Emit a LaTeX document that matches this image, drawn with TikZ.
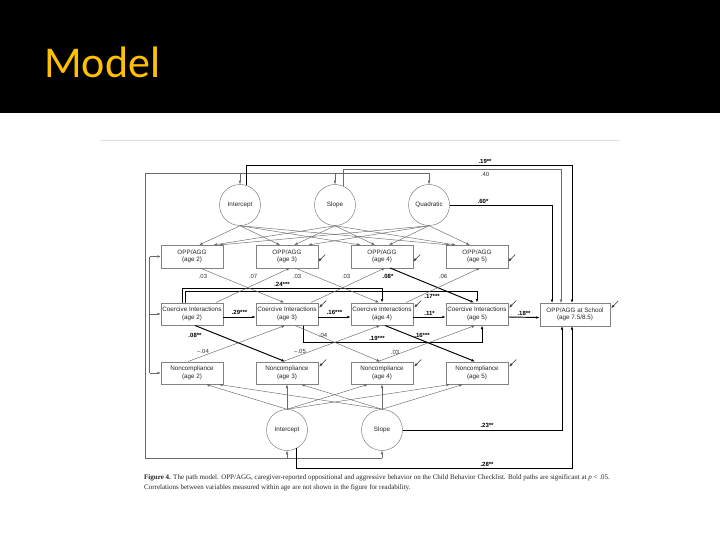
\documentclass[tikz,border=0pt]{standalone}
\usepackage{fontspec}
\setmainfont{Liberation Sans}
\newfontfamily\titlefont{Carlito}
\newfontfamily\capfont{Liberation Serif}
\usepackage{xcolor}
\usetikzlibrary{arrows.meta}
\definecolor{titolo}{RGB}{255,192,0}
\definecolor{linea}{RGB}{105,105,105}
\definecolor{bordo}{RGB}{130,130,130}
\newcommand{\boxfont}{\fontsize{6.3}{7.5}\selectfont}
\newcommand{\coeffont}{\fontsize{6}{7}\selectfont}

\begin{document}
\begin{tikzpicture}[>={Latex[length=3.5pt,width=2.6pt]}, x=1pt, y=-1pt,
  box/.style={draw=bordo, line width=0.5pt, minimum width=62pt, minimum height=22.5pt,
    inner sep=0.5pt, align=center, font=\boxfont, text=black!85},
  fac/.style={circle, draw=bordo, line width=0.5pt, minimum size=41pt, inner sep=0pt,
    font=\boxfont, text=black!85},
  gpath/.style={draw=linea, line width=0.45pt},
  bpath/.style={draw=black, line width=0.95pt},
  coef/.style={font=\coeffont, text=black!80, inner sep=0.5pt},
  bcoef/.style={font=\coeffont\bfseries, inner sep=0.5pt},
  res/.style={<-, draw=black!80, line width=0.45pt}]

  % Sfondo e titolo
  \useasboundingbox (0,0) rectangle (720,540);
  \fill[white] (0,0) rectangle (720,540);
  \fill[black] (0,0) rectangle (720,113);
  \node[anchor=base west, inner sep=0pt, text=titolo,
    font=\titlefont\fontsize{44}{50}\selectfont] (tit) at (44,78) {Model};
  \draw[gray!25, line width=0.6pt] (100,140) -- (620,140);

  % Fattori latenti
  \node[fac] (tI) at (240,205) {Intercept};
  \node[fac] (tS) at (335,205) {Slope};
  \node[fac] (tQ) at (429,205) {Quadratic};
  \node[fac] (bI) at (287,430) {Intercept};
  \node[fac] (bS) at (382,430) {Slope};

  % Variabili osservate
  \foreach \a/\x in {2/192,3/287,4/382,5/477}{
    \node[box] (o\a) at (\x,256.5) {OPP/AGG\\(age \a)};
    \node[box] (c\a) at (\x,314) {Coercive Interactions\\(age \a)};
    \node[box] (n\a) at (\x,373) {Noncompliance\\(age \a)};
  }
  \node[box, minimum width=70pt] (sch) at (575,314.5) {OPP/AGG at School\\(age 7.5/8.5)};

  % Carichi fattoriali
  \foreach \f/\fx in {tI/240,tS/335,tQ/429}
    \foreach \a/\x in {2/192,3/287,4/382,5/477}{
      \pgfmathsetmacro{\dx}{max(-27,min(27,0.15*(\fx-\x)))}
      \draw[gpath,->] (\f.south) -- ([xshift=\dx pt]o\a.north);
    }
  \foreach \f/\fx in {bI/287,bS/382}
    \foreach \a/\x in {2/192,3/287,4/382,5/477}{
      \pgfmathsetmacro{\dx}{max(-27,min(27,0.15*(\fx-\x)))}
      \draw[gpath,->] (\f.north) -- ([xshift=\dx pt]n\a.south);
    }

  % Anello esterno tra i fattori
  \coordinate (lt) at (145,173);
  \coordinate (lb) at (145,458);
  \draw[gpath] (tQ.north |- lt) -- (lt) -- (lb) -- (bS.south |- lb);
  \foreach \f in {tI,tS,tQ} \draw[gpath,->] (\f.north |- lt) -- (\f.north);
  \foreach \f in {bI,bS} \draw[gpath,->] (\f.south |- lb) -- (\f.south);

  % Linea interna a eta 2
  \coordinate (li) at (149.5,0);
  \draw[gpath] (li |- o2.west) -- (li |- n2.west);
  \foreach \b in {o2,c2,n2} \draw[gpath,->] (li |- \b.west) -- (\b.west);

  % Percorsi verso la scuola
  \coordinate (r19) at (572,165);
  \coordinate (r40) at (561,169);
  \coordinate (r60) at (552,205);
  \coordinate (r23) at (562,430);
  \coordinate (r28) at (572,468);
  \draw[bpath,->] (tI.73) |- (r19) -- (r19 |- sch.north);
  \draw[gpath,->] (tS.68) |- (r40) -- (r40 |- sch.north);
  \draw[bpath,->] (tQ.east) -- (r60) -- (r60 |- sch.north);
  \draw[bpath,->] (bS.east) -- (r23) -- (r23 |- sch.south);
  \draw[bpath,->] (bI.298) |- (r28) -- (r28 |- sch.south);

  % Catena delle interazioni coercitive
  \foreach \a/\b/\k in {c2/c3/.29***, c3/c4/.16***, c4/c5/.11*, c5/sch/.18**}
    \draw[bpath,->] ([yshift=-3pt]\a.east) -- node[bcoef,above=1pt] (k\a) {\k} ([yshift=-3pt]\b.west);

  % Percorsi a salto
  \coordinate (s24) at (382,288);
  \coordinate (s25) at (477,291.5);
  \coordinate (s35) at (482,342);
  \draw[bpath,->] ([xshift=-10pt]c2.north) |- (s24) -- (s24 |- c4.north);
  \draw[bpath,->] ([xshift=-7pt]c2.north) |- (s25) -- (s25 |- c5.north);
  \draw[bpath,->] ([xshift=16pt]c3.south) |- (s35) -- (s35 |- c5.south);

  % OPP/AGG <-> coercizione
  \draw[gpath,->] ([xshift=8pt]o2.south) -- ([xshift=-3pt]c3.north);
  \draw[gpath,->] ([xshift=24pt]c2.north) -- ([xshift=3pt]o3.south);
  \draw[gpath,->] ([xshift=8pt]o3.south) -- ([xshift=-3pt]c4.north);
  \draw[gpath,->] ([xshift=24pt]c3.north) -- ([xshift=3pt]o4.south);
  \draw[bpath,->] ([xshift=8pt]o4.south) -- ([xshift=-3pt]c5.north);
  \draw[gpath,->] ([xshift=24pt]c4.north) -- ([xshift=3pt]o5.south);

  % Coercizione <-> noncompliance
  \draw[bpath,->] ([xshift=3pt]c2.south) -- ([xshift=-2pt]n3.north);
  \draw[gpath,->] ([xshift=-4pt]n2.north) -- ([xshift=-2pt]c3.south);
  \draw[gpath,->] ([xshift=8pt]c3.south) -- ([xshift=-2pt]n4.north);
  \draw[gpath,->] ([xshift=-4pt]n3.north) -- ([xshift=-2pt]c4.south);
  \draw[bpath,->] ([xshift=3pt]c4.south) -- ([xshift=-2pt]n5.north);
  \draw[gpath,->] ([xshift=-4pt]n4.north) -- ([xshift=-2pt]c5.south);

  % Residui
  \foreach \b in {o3,o4,o5} \draw[res] ([yshift=-5pt]\b.east) -- ++(7,-7);
  \foreach \b in {c3,c4,c5,n3,n4,n5,sch} \draw[res] ([shift={(1pt,-5pt)}]\b.north east) -- ++(7,-7);

  % Coefficienti
  \node[bcoef] (k19) at (485,161) {.19**};
  \node[coef]  (k40) at (485,174) {.40};
  \node[bcoef] (k60) at (483,201.5) {.60*};
  \node[coef]  (ka) at (203,276) {.03};
  \node[coef]  (kb) at (253,276) {.07};
  \node[coef]  (kc) at (297,276) {.03};
  \node[coef]  (kd) at (346,276) {.03};
  \node[bcoef] (ke) at (388,276) {.08*};
  \node[coef]  (kf) at (443,276) {.06};
  \node[bcoef] (k24) at (282,284.5) {.24***};
  \node[bcoef] (k17) at (432,296) {.17***};
  \node[bcoef] (kg) at (195,335) {.08**};
  \node[coef]  (kh) at (203,351) {--.04};
  \node[coef]  (ki) at (323,335) {.04};
  \node[coef]  (kj) at (300,351) {--.05};
  \node[bcoef] (k193) at (377,338.5) {.19***};
  \node[bcoef] (kk) at (422,335) {.16***};
  \node[coef]  (kl) at (395,352.5) {.03};
  \node[bcoef] (k23) at (487,425) {.23**};
  \node[bcoef] (k28) at (487,464.5) {.28**};

  % Didascalia
  \node[anchor=north west, inner sep=0pt, align=left, text=black!85,
    font=\capfont\fontsize{7}{10}\selectfont] (cap) at (144,474.5)
    {\textbf{Figure 4.} The path model. OPP/AGG, caregiver-reported oppositional and aggressive behavior on the Child Behavior Checklist. Bold paths are significant at \textit{p} < .05.\\
     Correlations between variables measured within age are not shown in the figure for readability.};
\end{tikzpicture}
\end{document}
